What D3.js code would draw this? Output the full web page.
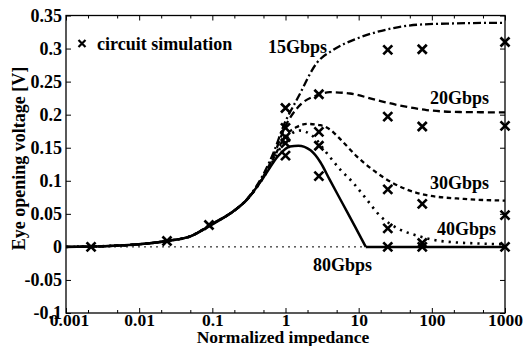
<!DOCTYPE html>
<html><head><meta charset="utf-8">
<script src="https://cdn.jsdelivr.net/npm/d3@7"></script>
<style>
html,body{margin:0;padding:0;background:#fff;}
text{font-family:"Liberation Serif","Times New Roman",serif;font-weight:bold;fill:#000;}
</style></head>
<body><svg id="c" width="528" height="346"></svg>
<script>
const xTickValues = [0.001, 0.01, 0.1, 1, 10, 100, 1000];
const xTickLabels = ["0.001", "0.01", "0.1", "1", "10", "100", "1000"];
const yTickValues = [-0.1, -0.05, 0, 0.05, 0.1, 0.15, 0.2, 0.25, 0.3, 0.35];
const yTickLabels = ["-0.1", "-0.05", "0", "0.05", "0.1", "0.15", "0.2", "0.25", "0.3", "0.35"];

const seriesNames = ["15Gbps", "20Gbps", "30Gbps", "40Gbps", "80Gbps"];
const s15 = [[0.001,0],[0.003,0.001],[0.01,0.004],[0.024,0.009],[0.05,0.016],[0.1,0.035],[0.2,0.055],[0.3,0.073],[0.5,0.11],[0.7,0.145],[0.93,0.182],[1.5,0.227],[2.67,0.278],[4.5,0.298],[9.4,0.315],[17.6,0.325],[30,0.331],[63,0.336],[200,0.338],[1000,0.339]];
const s20 = [[0.001,0],[0.003,0.001],[0.01,0.004],[0.024,0.009],[0.05,0.016],[0.1,0.035],[0.2,0.055],[0.3,0.072],[0.5,0.107],[0.7,0.14],[1,0.183],[1.5,0.212],[2.8,0.23],[4,0.234],[7.6,0.232],[17.6,0.222],[36,0.214],[85,0.207],[240,0.204],[1000,0.2035]];
const s30 = [[0.001,0],[0.003,0.001],[0.01,0.004],[0.024,0.009],[0.05,0.016],[0.1,0.035],[0.2,0.055],[0.3,0.072],[0.5,0.106],[0.7,0.136],[1,0.168],[1.4,0.181],[2,0.186],[3,0.184],[4,0.178],[5.6,0.163],[9.4,0.137],[15.8,0.116],[30,0.096],[45,0.087],[78,0.079],[275,0.0725],[1000,0.07]];
const s40 = [[0.001,0],[0.003,0.001],[0.01,0.004],[0.024,0.009],[0.05,0.016],[0.1,0.035],[0.2,0.055],[0.3,0.072],[0.5,0.105],[0.7,0.133],[1,0.162],[1.55,0.176],[2.4,0.167],[3.6,0.143],[5.6,0.117],[8.4,0.097],[12,0.076],[20,0.046],[34,0.028],[63,0.017],[130,0.009],[470,0.005],[1000,0.004]];
const s80 = [[0.001,0],[0.003,0.001],[0.01,0.004],[0.024,0.009],[0.05,0.016],[0.1,0.034],[0.2,0.055],[0.3,0.072],[0.5,0.105],[0.8,0.138],[1.15,0.152],[1.5,0.153],[2.2,0.146],[3,0.128],[4,0.102],[6,0.066],[9,0.03],[12.5,0],[1000,0]];

const simX = [0.0022, 0.024, 0.09, 1, 1, 1, 1, 1, 2.86, 2.86, 2.86, 2.86, 25, 25, 25, 25, 25, 74, 74, 74, 74, 74, 1000, 1000, 1000, 1000];
const simY = [0, 0.009, 0.033, 0.21, 0.18, 0.166, 0.157, 0.138, 0.231, 0.174, 0.153, 0.107, 0.298, 0.197, 0.087, 0.028, 0, 0.299, 0.182, 0.065, 0.006, 0, 0.31, 0.183, 0.048, 0];

const svg = d3.select("#c");
const L = 66, R = 505, T = 15.5, B = 313;
const x = d3.scaleLog().domain([0.001, 1000]).range([L, R]);
const y = d3.scaleLinear().domain([-0.1, 0.35]).range([B, T]);

const minorX = [];
for (let d = 0.001; d < 1000; d *= 10) { minorX.push(d * 2, d * 5); }

// zero line
svg.append("line").attr("x1", L).attr("x2", R).attr("y1", y(0)).attr("y2", y(0))
  .attr("stroke", "#000").attr("stroke-width", 1).attr("stroke-dasharray", "2,4");

// curves
const styles = {
  "15Gbps": {dash: "8,3,2,3", w: 2.3},
  "20Gbps": {dash: "7,4", w: 2.3},
  "30Gbps": {dash: "4.5,3.5", w: 2.3},
  "40Gbps": {dash: "2.2,5", w: 2.6},
  "80Gbps": {dash: null, w: 2.5}
};
const allSeries = [s15, s20, s30, s40, s80];
const line = d3.line().x(d => x(d[0])).y(d => y(d[1])).curve(d3.curveMonotoneX);
allSeries.forEach((s, i) => {
  const st = styles[seriesNames[i]];
  let parts = [s];
  if (seriesNames[i] === "80Gbps") {
    const k = s.findIndex((d, j) => j > 5 && d[1] === 0);
    parts = [s.slice(0, k + 1), s.slice(k)];
  }
  parts.forEach(p => {
    svg.append("path").attr("d", line(p)).attr("fill", "none").attr("stroke", "#000")
      .attr("stroke-width", st.w).attr("stroke-dasharray", st.dash);
  });
});

// markers
const ms = 4.5;
simX.forEach((xv, i) => {
  const cx = x(xv), cy = y(simY[i]);
  svg.append("path").attr("d", `M${cx-ms},${cy-ms}L${cx+ms},${cy+ms}M${cx-ms},${cy+ms}L${cx+ms},${cy-ms}`)
    .attr("stroke", "#000").attr("stroke-width", 2.7).attr("fill", "none");
});

// axes
function style(g) {
  g.select(".domain").remove();
  g.selectAll("line").attr("stroke", "#000").attr("stroke-width", 1);
  g.selectAll("text").attr("font-family", null).attr("font-size", null);
}
svg.append("g").attr("transform", `translate(0,${B})`)
  .call(d3.axisBottom(x).tickValues(xTickValues).tickSize(-5).tickPadding(0).tickFormat((d, i) => xTickLabels[i]))
  .call(style).selectAll("text").style("font-size", "17.5px").attr("y", 13).attr("dy", null)
  .attr("dx", (d, i) => i === 0 ? 3 : 0);
svg.append("g").attr("transform", `translate(0,${B})`)
  .call(d3.axisBottom(x).tickValues(minorX).tickSize(-3).tickFormat("")).call(style);
svg.append("g").attr("transform", `translate(0,${T})`)
  .call(d3.axisTop(x).tickValues(xTickValues).tickSize(-5).tickFormat("")).call(style);
svg.append("g").attr("transform", `translate(0,${T})`)
  .call(d3.axisTop(x).tickValues(minorX).tickSize(-3).tickFormat("")).call(style);
svg.append("g").attr("transform", `translate(${L},0)`)
  .call(d3.axisLeft(y).tickValues(yTickValues).tickSize(-5).tickPadding(4).tickFormat((d, i) => yTickLabels[i]))
  .call(style).selectAll("text").style("font-size", "18px");
svg.append("g").attr("transform", `translate(${R},0)`)
  .call(d3.axisRight(y).tickValues(yTickValues).tickSize(-5).tickFormat("")).call(style);

// frame
svg.append("rect").attr("x", L).attr("y", T).attr("width", R - L).attr("height", B - T)
  .attr("fill", "none").attr("stroke", "#000").attr("stroke-width", 1.3);

// axis titles
svg.append("text").attr("x", 283).attr("y", 342.5).attr("text-anchor", "middle")
  .style("font-size", "17.5px").text("Normalized impedance");
svg.append("text").attr("transform", `translate(25,158.5) rotate(-90)`).attr("text-anchor", "middle")
  .style("font-size", "18px").text("Eye opening voltage [V]");

// series labels
const labelPos = {"15Gbps": [268, 53], "20Gbps": [430, 104], "30Gbps": [430, 189], "40Gbps": [437, 235], "80Gbps": [313, 271]};
seriesNames.forEach(n => {
  svg.append("text").attr("x", labelPos[n][0]).attr("y", labelPos[n][1]).style("font-size", "18px").text(n);
});

// legend
const lx = 82, ly = 43.5, lm = 3.5;
svg.append("path").attr("d", `M${lx-lm},${ly-lm}L${lx+lm},${ly+lm}M${lx-lm},${ly+lm}L${lx+lm},${ly-lm}`)
  .attr("stroke", "#000").attr("stroke-width", 2.2);
svg.append("text").attr("x", 97).attr("y", 49.5).style("font-size", "18px").text("circuit simulation");
</script></body></html>
